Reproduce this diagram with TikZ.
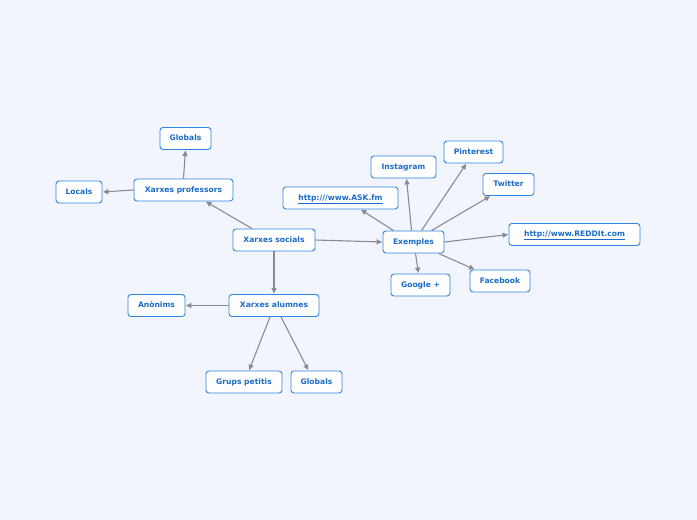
\documentclass[tikz,border=0pt]{standalone}
\usepackage{fontspec}
\setmainfont{DejaVu Sans}
\usetikzlibrary{arrows.meta}
\definecolor{bg}{HTML}{F2F5FD}
\definecolor{nodeblue}{HTML}{2F86E0}
\definecolor{txtblue}{HTML}{1A6CC8}
\definecolor{edgegray}{HTML}{8A8A92}
\tikzset{
  topic/.style={draw=nodeblue, line width=0.9pt, fill=white, rounded corners=3pt,
    minimum height=22pt, inner xsep=3pt, inner ysep=0pt, text height=5.6pt, text depth=1.6pt,
    text=txtblue, font=\fontsize{7.6}{9}\selectfont\bfseries},
  link/.style={topic},
  conn/.style={draw=edgegray, line width=1.1pt, -{Triangle[length=5.5pt,width=5pt]}, shorten >=0.5pt}
}
\newcommand{\ul}[1]{\underline{#1}}
\begin{document}
\begin{tikzpicture}[x=1pt,y=-1pt]
\fill[bg] (0,0) rectangle (697,520);
\useasboundingbox (0,0) rectangle (697,520);
\node[topic, minimum width=82pt] (soc) at (274,240) {Xarxes socials};
\node[topic, minimum width=99pt] (prof) at (183.5,190) {Xarxes professors};
\node[topic, minimum width=51pt] (glob1) at (185.5,138.5) {Globals};
\node[topic, minimum width=46pt] (loc) at (79,192) {Locals};
\node[topic, minimum width=90pt] (alum) at (274,305.5) {Xarxes alumnes};
\node[topic, minimum width=57pt] (anon) at (156.5,305.5) {Anònims};
\node[topic, minimum width=76pt] (grups) at (244,382) {Grups petitis};
\node[topic, minimum width=51pt] (glob2) at (316.5,382) {Globals};
\node[topic, minimum width=61pt] (ex) at (413.5,242) {Exemples};
\node[link, minimum width=115pt] (ask) at (340.5,198) {\ul{http:///www.ASK.fm}};
\node[topic, minimum width=65pt] (insta) at (403.5,167) {Instagram};
\node[topic, minimum width=59pt] (pin) at (473.5,152) {Pinterest};
\node[topic, minimum width=51pt] (tw) at (508.5,184.5) {Twitter};
\node[link, minimum width=131pt] (red) at (574.5,234.5) {\ul{http://www.REDDIt.com}};
\node[topic, minimum width=60pt] (fb) at (500,281) {Facebook};
\node[topic, minimum width=59pt] (goo) at (420.5,285) {Google +};

\draw[conn] ([xshift=-22pt]soc.north) -- ([xshift=22pt]prof.south);
\draw[conn] (prof.north) -- (glob1.south);
\draw[conn] (prof.west) -- (loc.east);
\draw[conn] (soc.south) -- (alum.north);
\draw[conn] (alum.west) -- (anon.east);
\draw[conn] ([xshift=-4pt]alum.south) -- ([xshift=5pt]grups.north);
\draw[conn] ([xshift=7pt]alum.south) -- ([xshift=-8pt]glob2.north);
\draw[conn] (soc.east) -- (ex.west);
\draw[conn] ([xshift=-20pt]ex.north) -- ([xshift=20pt]ask.south);
\draw[conn] ([xshift=-2pt]ex.north) -- ([xshift=3pt]insta.south);
\draw[conn] ([xshift=8pt]ex.north) -- ([xshift=-7pt]pin.south);
\draw[conn] ([xshift=18pt]ex.north) -- ([xshift=-18pt]tw.south);
\draw[conn] (ex.east) -- (red.west);
\draw[conn] ([xshift=25pt]ex.south) -- ([xshift=-25pt]fb.north);
\draw[conn] ([xshift=2pt]ex.south) -- ([xshift=-2pt]goo.north);
\end{tikzpicture}
\end{document}
